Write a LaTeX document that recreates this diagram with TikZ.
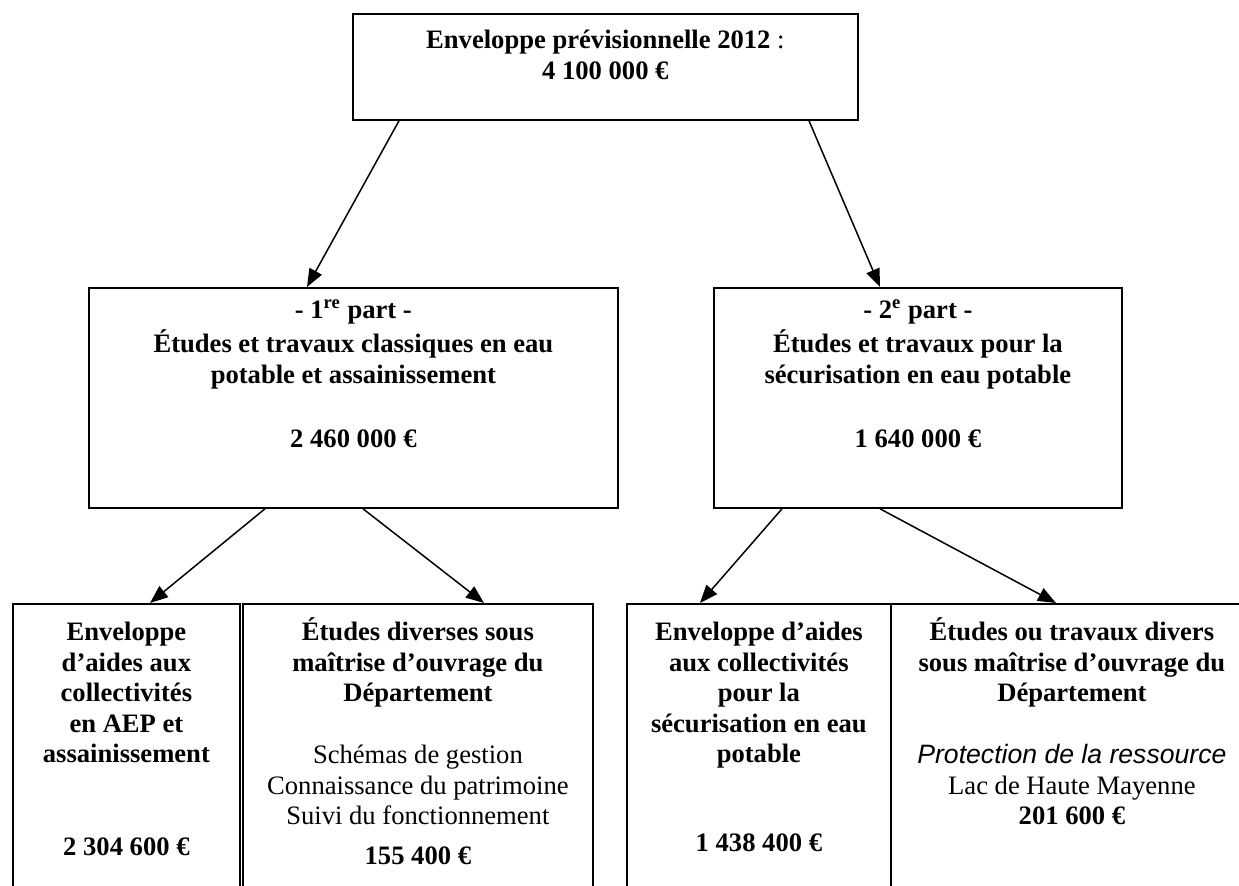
\documentclass[tikz,border=0pt]{standalone}
\usepackage{fontspec}
\setmainfont{Liberation Serif}
\newfontfamily\arialfont{Liberation Sans}
\usepackage{tikz}
\usetikzlibrary{arrows.meta,positioning}
\newcommand{\cellbox}[3]{\parbox[t][#1][t]{#2}{\centering #3}}

\begin{document}
\begin{tikzpicture}[
    x=0.5pt, y=-0.5pt,
    font=\fontsize{13.3}{15.25}\selectfont\bfseries,
    box/.style={draw, line width=0.9pt, inner sep=0pt, anchor=north west},
    arrow/.style={-{Triangle[length=9pt,width=7pt]}, line width=0.75pt}
]
\useasboundingbox (0,0) rectangle (1239,886);
\clip (0,0) rectangle (1239,886);

\node[box] (total) at (352,13) {\cellbox{53pt}{252.5pt}{\rule{0pt}{17.5pt}Enveloppe prévisionnelle 2012 {\mdseries :}\\4 100 000 €}};

\node[box] (part1) at (88,287) {\cellbox{110pt}{264.5pt}{\rule{0pt}{15.5pt}- 1\textsuperscript{re} part -\\[1.75pt]Études et travaux classiques en eau\\[0.25pt]potable et assainissement\\[16.75pt]2 460 000 €}};
\node[box] (part2) at (713,287) {\cellbox{110pt}{204pt}{\rule{0pt}{15.5pt}- 2\textsuperscript{e} part -\\[1.75pt]Études et travaux pour la\\[0.25pt]sécurisation en eau potable\\[16.75pt]1 640 000 €}};

\node[box] (aep)      at (12,603)  {\cellbox{150pt}{113.5pt}{\rule{0pt}{18.5pt}Enveloppe\\d’aides aux\\collectivités\\en AEP et\\assainissement\\[31.25pt]2 304 600 €}};
\node[box] (etudes)   at (242,603) {\cellbox{150pt}{175pt}{\rule{0pt}{18.5pt}Études diverses sous\\maîtrise d’ouvrage du\\Département\\[15.75pt]{\mdseries Schémas de gestion\\Connaissance du patrimoine\\Suivi du fonctionnement}\\[4.75pt]155 400 €}};
\node[box] (secur)    at (626,603) {\cellbox{150pt}{132pt}{\rule{0pt}{18.5pt}Enveloppe d’aides\\aux collectivités\\pour la\\sécurisation en eau\\potable\\[29pt]1 438 400 €}};
\node[box] (travaux)  at (890,603) {\cellbox{150pt}{181pt}{\rule{0pt}{18.5pt}Études ou travaux divers\\sous maîtrise d’ouvrage du\\Département\\[15.75pt]{\normalfont\arialfont\itshape Protection de la ressource}\\{\mdseries Lac de Haute Mayenne}\\201 600 €}};

\draw[arrow] (399,0 |- total.south) -- (307,0 |- part1.north);
\draw[arrow] (809,0 |- total.south) -- (880,0 |- part2.north);
\draw[arrow] (265,0 |- part1.south) -- (150,0 |- aep.north);
\draw[arrow] (363,0 |- part1.south) -- (484,0 |- etudes.north);
\draw[arrow] (782,0 |- part2.south) -- (700,0 |- secur.north);
\draw[arrow] (880,0 |- part2.south) -- (1056,0 |- travaux.north);
\end{tikzpicture}
\end{document}
